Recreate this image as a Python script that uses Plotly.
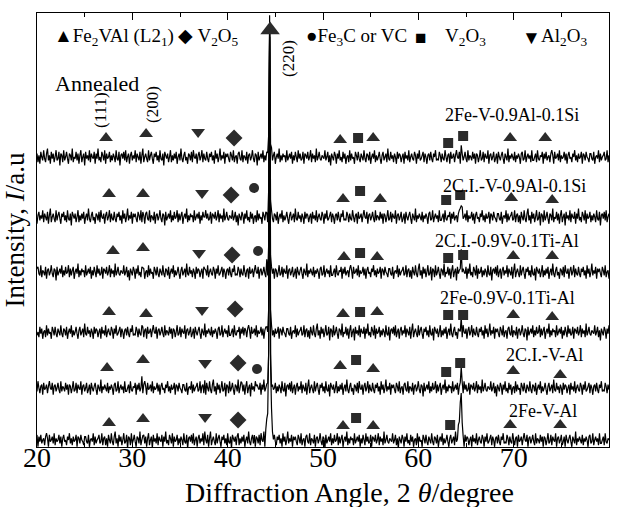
import numpy as np
import plotly.graph_objects as go

# ---------------- data ----------------
TWO_THETA = np.round(np.arange(20.0, 80.0001, 0.1), 1)

SAMPLES = ["2Fe-V-0.9Al-0.1Si", "2C.I.-V-0.9Al-0.1Si", "2C.I.-0.9V-0.1Ti-Al",
           "2Fe-0.9V-0.1Ti-Al", "2C.I.-V-Al", "2Fe-V-Al"]
BASELINES = [290, 230, 175, 115, 59, 7]

# hand-estimated background noise (intensity units), read as one long sequence
NOISE_A = [
    2, -3, 1, -4, 3, 0, -2, 4, -1, -3, 2, 5, -2, 1, -4, 3, -1, 2, -3, 0,
    4, -2, -1, 3, -5, 2, 1, -3, 4, -2, 0, 3, -1, -4, 2, 1, -2, 5, -3, 0,
    -1, 3, -2, 2, -4, 1, 4, -3, 0, 2, -5, 3, -1, 1, -2, 4, -3, 2, 0, -1,
    3, -4, 2, -1, 5, -2, 0, -3, 3, 1, -2, 4, -4, 2, -1, 0, 3, -3, 1, -2,
    2, 0, -3, 4, -1, -2, 3, -5, 1, 2, -1, 3, -2, 4, -3, 0, 2, -4, 1, 3,
    -2, 1, -1, 4, -3, 2, 0, -2, 3, -4, 1, 5, -3, 0, 2, -1, -3, 4, -2, 1,
    3, -1, -4, 2, 0, 3, -2, 1, -3, 4, -1, -2, 2, -5, 3, 1, -1, 2, -3, 0,
    4, -3, 1, -2, 2, -1, 3, -4, 0, 2, -2, 5, -1, -3, 1, 3, -2, 0, -4, 2,
    1, -2, 3, -3, 4, 0, -1, 2, -4, 1, 3, -2, 0, 4, -3, 2, -1, -2, 3, -1,
    -3, 2, 0, 3, -2, 1, -4, 4, -1, 2, -3, 0, 5, -2, 1, -1, 3, -4, 2, 0,
    2, -1, -3, 3, 1, -2, 4, -3, 0, 1, -4, 2, 3, -1, -2, 4, -3, 1, 0, -2,
    3, -4, 1, 2, -2, 0, 4, -1, -3, 2, 1, -5, 3, -2, 0, 2, -1, 4, -3, 1,
    -2, 3, -1, 0, 4, -3, 2, -2, 1, 3, -4, 0, 2, -1, 5, -3, 1, -2, 2, 0,
    1, -3, 4, -2, 0, 2, -1, 3, -4, 1, -2, 3, 0, -3, 4, -1, 2, -2, -1, 3,
    -4, 2, 1, -1, 3, -2, 0, 4, -3, 2, -1, 1, -3, 5, -2, 0, 3, -1, -2, 1,
    0,
]
NOISE_B = [
    -1, 4, -2, 0, 3, -3, 1, -5, 2, 0, -2, 3, 1, -4, 2, -1, 4, -2, 0, -3,
    3, -1, 2, -4, 0, 1, -3, 4, -2, 2, -1, 0, -4, 3, 1, -2, 3, -1, -3, 2,
    0, -2, 4, -1, -3, 2, 1, -2, 3, -4, 0, 2, -1, 4, -3, 1, -2, 0, 3, -1,
    -4, 1, 3, -2, 0, 2, -3, 5, -1, -2, 3, -1, 1, -3, 2, 0, -4, 3, -1, 2,
    1, -3, 0, 2, -4, 3, -1, 1, -2, 4, -3, 0, 2, -1, -2, 3, 1, -4, 2, -1,
    4, -2, -1, 1, 3, -3, 2, 0, -4, 1, 2, -2, 3, -1, -3, 2, 0, 4, -2, -1,
    -2, 3, 1, -3, 2, -1, -2, 4, 0, -3, 1, 2, -4, 3, -1, 0, 2, -3, 1, 4,
    0, -1, 3, -4, 1, 2, -2, 0, 3, -1, -3, 4, -2, 1, 0, -2, 3, -1, 2, -4,
    2, 1, -3, 0, 4, -2, -1, 3, -3, 2, 0, -1, 4, -4, 1, 2, -2, 0, 3, -3,
    -1, 2, -4, 3, 0, -2, 1, 3, -1, -4, 2, 0, -2, 5, -3, 1, -1, 2, 0, -2,
    3, -3, 1, -1, 2, 0, -4, 2, 3, -2, -1, 4, -3, 0, 2, -1, 1, -3, 4, -2,
    -2, 0, 2, -3, 4, -1, -2, 1, 0, 3, -4, 2, -1, 3, -2, 0, 1, -3, 2, 4,
    1, -4, 3, -1, 0, 2, -2, 4, -3, 1, -1, 0, 3, -2, 2, -4, 1, 3, -1, 0,
    -3, 2, 0, 4, -2, 1, -3, 2, -1, 0, 3, -4, 2, 1, -2, 3, 0, -1, -3, 2,
    2, -1, -2, 3, -4, 0, 1, -1, 4, -3, 2, -2, 0, 1, 3, -2, -1, 4, -3, 1,
]
NOISE = NOISE_A + NOISE_B
NOISE_SHIFT = [0, 97, 211, 318, 427, 530]
NOISE_GAIN = 1.7

# diffraction peaks per sample: (2theta, height above background)
PEAKS = [
    [(44.2, 6), (44.3, 22), (44.4, 128), (44.5, 18), (44.6, 6), (64.5, 10)],
    [(31.1, 5), (37.6, 5), (44.1, 6), (44.3, 24), (44.4, 185), (44.5, 20),
     (64.4, 7), (64.5, 18), (64.6, 5)],
    [(31.1, 6), (37.6, 5), (44.1, 6), (44.3, 26), (44.4, 235), (44.5, 20),
     (64.4, 7), (64.5, 16), (64.6, 5)],
    [(31.1, 5), (41.8, 4), (44.1, 7), (44.3, 28), (44.4, 295), (44.5, 22),
     (64.4, 4), (64.5, 10)],
    [(31.0, 10), (37.6, 6), (41.4, 8), (43.0, 7), (44.1, 9), (44.3, 32),
     (44.4, 355), (44.5, 28), (44.6, 8), (64.4, 9), (64.5, 16), (64.6, 6)],
    [(31.1, 6), (37.6, 5), (41.0, 4), (42.8, 5), (43.8, 5), (44.0, 9),
     (44.1, 16), (44.2, 30), (44.3, 90), (44.4, 418), (44.5, 80), (44.6, 28),
     (44.7, 10), (44.8, 4), (64.1, 4), (64.2, 10), (64.3, 20), (64.4, 36),
     (64.5, 52), (64.6, 14), (64.7, 4)],
]

# phase markers per sample: (2theta, level)
FE2VAL = [
    [(27.24, 309), (31.44, 313), (51.8, 307), (55.26, 309), (69.63, 309), (73.31, 309)],
    [(27.56, 253), (31.12, 253), (52.1, 248), (55.99, 248), (69.74, 249), (74.04, 247)],
    [(27.97, 196), (31.12, 199), (52.2, 190), (55.68, 190), (69.95, 191), (74.04, 191)],
    [(27.56, 135), (31.44, 133), (52.1, 133), (55.68, 135), (69.95, 132), (74.04, 130)],
    [(27.35, 79), (31.12, 87), (51.8, 81), (55.26, 78), (69.95, 76), (74.88, 72)],
    [(27.56, 24), (31.12, 28), (52.1, 21), (55.26, 21), (69.63, 22), (74.88, 22)],
]
FE2VAL_220 = [(44.45, 417)]
V2O5 = [(40.67, 309), (40.36, 252), (40.46, 192), (40.78, 138), (41.09, 84), (41.09, 27)]
FE3C_VC = [(42.77, 259), (43.19, 196), (43.08, 78)]
V2O3 = [(53.68, 309), (63.13, 304), (64.70, 311),
        (53.89, 256), (62.92, 247), (64.39, 252),
        (53.89, 194), (63.13, 189), (64.70, 192),
        (53.89, 135), (63.13, 132), (64.70, 132),
        (53.47, 87), (62.92, 75), (64.39, 84),
        (53.47, 29), (63.34, 22)]
AL2O3 = [(36.9, 315), (37.31, 254), (37.0, 194), (37.31, 137), (37.63, 84), (37.63, 30)]

X_TICKS = [20, 30, 40, 50, 60, 70, 80]

# ---------------- figure ----------------
FONT = "Liberation Serif, Times New Roman, serif"
MARK = "#2b2b2b"
fig = go.Figure()

n = len(TWO_THETA)
for k, name in enumerate(SAMPLES):
    y = np.array([BASELINES[k] + NOISE_GAIN * NOISE[(i + NOISE_SHIFT[k]) % len(NOISE)]
                  for i in range(n)], float)
    for pos, h in PEAKS[k]:
        idx = int(np.argmin(np.abs(TWO_THETA - pos)))
        y[idx] += h
    fig.add_trace(go.Scatter(x=TWO_THETA, y=y, mode="lines", name=name,
                             line=dict(color="black", width=1.2, simplify=False),
                             showlegend=False))


def add_marks(points, symbol, size):
    fig.add_trace(go.Scatter(x=[p[0] for p in points], y=[p[1] for p in points],
                             mode="markers", showlegend=False,
                             marker=dict(symbol=symbol, size=size, color=MARK,
                                         line=dict(width=0))))


add_marks([p for row in FE2VAL for p in row], "triangle-up", 12)
add_marks(FE2VAL_220, "triangle-up", 17)
add_marks(V2O5, "diamond", 13)
add_marks(FE3C_VC, "circle", 10)
add_marks(V2O3, "square", 10)
add_marks(AL2O3, "triangle-down", 12)

annotations = []
LABEL_POS = [(512, 115), (514, 186), (507, 241), (507, 298), (544, 355), (543, 411)]


def px2x(px):
    return 20 + (px - 37) / 9.533


def py2y(py):
    return 447 - py


for name, (px, py) in zip(SAMPLES, LABEL_POS):
    annotations.append(dict(x=px2x(px), y=py2y(py), text=name, showarrow=False,
                            font=dict(size=18, family=FONT, color="black"),
                            xanchor="center", yanchor="middle"))

annotations.append(dict(x=px2x(97), y=py2y(83), text="Annealed", showarrow=False,
                        font=dict(size=22, family=FONT, color="black")))
for txt, px, py in [("(111)", 100, 110), ("(200)", 152, 105), ("(220)", 288, 59)]:
    annotations.append(dict(x=px2x(px), y=py2y(py), text=txt, showarrow=False, textangle=-90,
                            font=dict(size=17, family=FONT, color="black")))

LEGEND_ROW = [("▲Fe<sub>2</sub>VAl (L2<sub>1</sub>)", 52), ("◆ V<sub>2</sub>O<sub>5</sub>", 176),
              ("●Fe<sub>3</sub>C or VC", 304), ("■", 413), ("V<sub>2</sub>O<sub>3</sub>", 443),
              ("▼", 520), ("Al<sub>2</sub>O<sub>3</sub>", 539)]
for txt, px in LEGEND_ROW:
    annotations.append(dict(x=px2x(px), y=py2y(37), text=txt, showarrow=False,
                            xanchor="left", yanchor="middle",
                            font=dict(size=19, family=FONT, color="black")))

# x-axis title (placed as in the reference, slightly right of centre)
annotations.append(dict(x=(349 - 37) / 572, xref="paper", y=-(492 - 447) / 434, yref="paper",
                        text="Diffraction Angle, 2 <i>θ</i>/degree", showarrow=False,
                        xanchor="center", yanchor="middle",
                        font=dict(size=28, family=FONT, color="black")))

fig.update_layout(
    width=618, height=507,
    margin=dict(l=37, r=9, t=13, b=60),
    paper_bgcolor="white", plot_bgcolor="white",
    font=dict(family=FONT, color="black"),
    annotations=annotations,
    xaxis=dict(range=[20, 80], tickvals=X_TICKS, ticks="inside", ticklen=7, tickwidth=1.2,
               tickcolor="black", ticklabelstandoff=-15,
               minor=dict(dtick=5, ticks="inside", ticklen=4, tickwidth=1.2, tickcolor="black"),
               showline=True, linecolor="black", linewidth=1.3, mirror="ticks",
               showgrid=False, zeroline=False,
               tickfont=dict(size=28, family=FONT)),
    yaxis=dict(range=[0, 434], showticklabels=False, ticks="",
               showline=True, linecolor="black", linewidth=1.3, mirror=True,
               showgrid=False, zeroline=False,
               title=dict(text="Intensity, <i>I</i>/a.u", font=dict(size=27, family=FONT),
                          standoff=4)),
)

fig.write_html("out.html")
